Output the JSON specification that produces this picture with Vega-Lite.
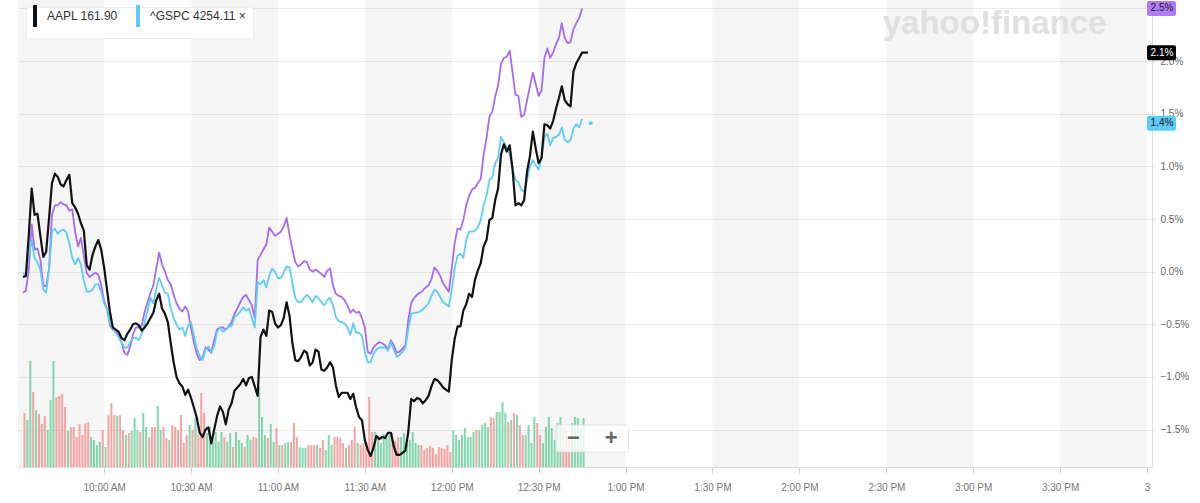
{
"$schema":"https://vega.github.io/schema/vega-lite/v6.json",
"width":1134,"height":467,
"autosize":{"type":"none"},
"padding":{"left":18,"top":0,"right":48,"bottom":36},
"background":"#ffffff",
"config":{"view":{"stroke":null},"font":"Liberation Sans"},
"data":{"format":{"parse":{"t":"date:'%H:%M'"}},"values":[
{"t":"09:32","a":-0.05,"g":-0.01,"n":-0.20,"v":46,"d":"r"},
{"t":"09:33","a":-0.04,"g":-0.03,"n":-0.18,"v":39,"d":"g"},
{"t":"09:34","a":0.35,"g":0.16,"n":0.02,"v":98,"d":"g"},
{"t":"09:35","a":0.79,"g":0.30,"n":0.45,"v":67,"d":"r"},
{"t":"09:36","a":0.54,"g":0.13,"n":0.21,"v":49,"d":"g"},
{"t":"09:37","a":0.55,"g":0.09,"n":0.22,"v":45,"d":"r"},
{"t":"09:38","a":0.34,"g":0.02,"n":0.11,"v":35,"d":"r"},
{"t":"09:39","a":0.14,"g":-0.17,"n":-0.13,"v":43,"d":"r"},
{"t":"09:40","a":0.19,"g":-0.20,"n":-0.14,"v":29,"d":"g"},
{"t":"09:41","a":0.51,"g":0.02,"n":0.03,"v":59,"d":"g"},
{"t":"09:42","a":0.84,"g":0.38,"n":0.54,"v":98,"d":"g"},
{"t":"09:43","a":0.93,"g":0.41,"n":0.63,"v":62,"d":"r"},
{"t":"09:44","a":0.90,"g":0.36,"n":0.63,"v":63,"d":"r"},
{"t":"09:45","a":0.83,"g":0.39,"n":0.66,"v":65,"d":"r"},
{"t":"09:46","a":0.81,"g":0.40,"n":0.64,"v":52,"d":"r"},
{"t":"09:47","a":0.87,"g":0.37,"n":0.63,"v":28,"d":"g"},
{"t":"09:48","a":0.92,"g":0.27,"n":0.58,"v":32,"d":"r"},
{"t":"09:49","a":0.65,"g":0.13,"n":0.59,"v":32,"d":"r"},
{"t":"09:50","a":0.61,"g":0.07,"n":0.38,"v":22,"d":"r"},
{"t":"09:51","a":0.55,"g":0.13,"n":0.24,"v":35,"d":"r"},
{"t":"09:52","a":0.46,"g":0.07,"n":0.32,"v":24,"d":"r"},
{"t":"09:53","a":0.39,"g":-0.08,"n":0.15,"v":36,"d":"r"},
{"t":"09:54","a":0.06,"g":-0.19,"n":-0.01,"v":37,"d":"r"},
{"t":"09:55","a":0.02,"g":-0.19,"n":-0.05,"v":22,"d":"g"},
{"t":"09:56","a":0.16,"g":-0.17,"n":-0.03,"v":19,"d":"g"},
{"t":"09:57","a":0.24,"g":-0.12,"n":-0.01,"v":14,"d":"g"},
{"t":"09:58","a":0.30,"g":-0.12,"n":-0.03,"v":17,"d":"g"},
{"t":"09:59","a":0.21,"g":-0.19,"n":-0.13,"v":29,"d":"r"},
{"t":"10:00","a":0.04,"g":-0.30,"n":-0.28,"v":12,"d":"g"},
{"t":"10:01","a":-0.17,"g":-0.36,"n":-0.35,"v":44,"d":"r"},
{"t":"10:02","a":-0.38,"g":-0.48,"n":-0.51,"v":56,"d":"r"},
{"t":"10:03","a":-0.53,"g":-0.55,"n":-0.55,"v":44,"d":"r"},
{"t":"10:04","a":-0.55,"g":-0.58,"n":-0.56,"v":43,"d":"g"},
{"t":"10:05","a":-0.57,"g":-0.62,"n":-0.61,"v":44,"d":"r"},
{"t":"10:06","a":-0.63,"g":-0.67,"n":-0.67,"v":29,"d":"r"},
{"t":"10:07","a":-0.65,"g":-0.72,"n":-0.77,"v":24,"d":"g"},
{"t":"10:08","a":-0.59,"g":-0.72,"n":-0.79,"v":26,"d":"r"},
{"t":"10:09","a":-0.55,"g":-0.67,"n":-0.71,"v":28,"d":"g"},
{"t":"10:10","a":-0.50,"g":-0.63,"n":-0.59,"v":41,"d":"g"},
{"t":"10:11","a":-0.49,"g":-0.63,"n":-0.53,"v":29,"d":"g"},
{"t":"10:12","a":-0.51,"g":-0.65,"n":-0.53,"v":27,"d":"r"},
{"t":"10:13","a":-0.56,"g":-0.59,"n":-0.51,"v":46,"d":"g"},
{"t":"10:14","a":-0.53,"g":-0.48,"n":-0.38,"v":32,"d":"g"},
{"t":"10:15","a":-0.49,"g":-0.37,"n":-0.29,"v":22,"d":"r"},
{"t":"10:16","a":-0.44,"g":-0.25,"n":-0.20,"v":32,"d":"r"},
{"t":"10:17","a":-0.39,"g":-0.30,"n":-0.13,"v":32,"d":"r"},
{"t":"10:18","a":-0.27,"g":-0.16,"n":0.03,"v":53,"d":"g"},
{"t":"10:19","a":-0.21,"g":-0.06,"n":0.18,"v":29,"d":"g"},
{"t":"10:20","a":-0.35,"g":-0.13,"n":0.07,"v":32,"d":"r"},
{"t":"10:21","a":-0.40,"g":-0.20,"n":0.00,"v":21,"d":"r"},
{"t":"10:22","a":-0.48,"g":-0.21,"n":-0.08,"v":19,"d":"g"},
{"t":"10:23","a":-0.68,"g":-0.35,"n":-0.12,"v":34,"d":"r"},
{"t":"10:24","a":-0.86,"g":-0.44,"n":-0.22,"v":32,"d":"r"},
{"t":"10:25","a":-1.00,"g":-0.50,"n":-0.30,"v":29,"d":"r"},
{"t":"10:26","a":-1.06,"g":-0.55,"n":-0.35,"v":44,"d":"r"},
{"t":"10:27","a":-1.09,"g":-0.53,"n":-0.38,"v":16,"d":"r"},
{"t":"10:28","a":-1.17,"g":-0.61,"n":-0.33,"v":24,"d":"r"},
{"t":"10:29","a":-1.12,"g":-0.51,"n":-0.38,"v":34,"d":"g"},
{"t":"10:30","a":-1.20,"g":-0.48,"n":-0.54,"v":29,"d":"r"},
{"t":"10:31","a":-1.29,"g":-0.61,"n":-0.67,"v":41,"d":"g"},
{"t":"10:32","a":-1.39,"g":-0.73,"n":-0.78,"v":24,"d":"r"},
{"t":"10:33","a":-1.53,"g":-0.80,"n":-0.84,"v":66,"d":"r"},
{"t":"10:34","a":-1.57,"g":-0.84,"n":-0.82,"v":46,"d":"r"},
{"t":"10:35","a":-1.50,"g":-0.74,"n":-0.72,"v":26,"d":"g"},
{"t":"10:36","a":-1.48,"g":-0.71,"n":-0.74,"v":32,"d":"g"},
{"t":"10:37","a":-1.63,"g":-0.76,"n":-0.77,"v":21,"d":"g"},
{"t":"10:38","a":-1.50,"g":-0.71,"n":-0.65,"v":27,"d":"g"},
{"t":"10:39","a":-1.37,"g":-0.57,"n":-0.55,"v":17,"d":"g"},
{"t":"10:40","a":-1.28,"g":-0.53,"n":-0.53,"v":27,"d":"g"},
{"t":"10:41","a":-1.33,"g":-0.57,"n":-0.53,"v":22,"d":"r"},
{"t":"10:42","a":-1.45,"g":-0.55,"n":-0.55,"v":17,"d":"g"},
{"t":"10:43","a":-1.31,"g":-0.52,"n":-0.52,"v":26,"d":"g"},
{"t":"10:44","a":-1.25,"g":-0.52,"n":-0.48,"v":12,"d":"r"},
{"t":"10:45","a":-1.13,"g":-0.43,"n":-0.40,"v":27,"d":"g"},
{"t":"10:46","a":-1.10,"g":-0.41,"n":-0.35,"v":19,"d":"g"},
{"t":"10:47","a":-1.07,"g":-0.38,"n":-0.29,"v":16,"d":"g"},
{"t":"10:48","a":-1.02,"g":-0.34,"n":-0.24,"v":12,"d":"r"},
{"t":"10:49","a":-1.08,"g":-0.37,"n":-0.22,"v":24,"d":"g"},
{"t":"10:50","a":-1.01,"g":-0.35,"n":-0.27,"v":19,"d":"g"},
{"t":"10:51","a":-1.00,"g":-0.44,"n":-0.32,"v":22,"d":"r"},
{"t":"10:52","a":-1.09,"g":-0.53,"n":-0.44,"v":21,"d":"r"},
{"t":"10:53","a":-1.18,"g":-0.10,"n":0.11,"v":72,"d":"g"},
{"t":"10:54","a":-0.62,"g":-0.12,"n":0.16,"v":42,"d":"g"},
{"t":"10:55","a":-0.55,"g":-0.08,"n":0.21,"v":24,"d":"g"},
{"t":"10:56","a":-0.61,"g":-0.15,"n":0.26,"v":21,"d":"r"},
{"t":"10:57","a":-0.37,"g":-0.04,"n":0.42,"v":35,"d":"g"},
{"t":"10:58","a":-0.38,"g":0.03,"n":0.38,"v":17,"d":"g"},
{"t":"10:59","a":-0.49,"g":0.00,"n":0.34,"v":31,"d":"r"},
{"t":"11:00","a":-0.53,"g":-0.06,"n":0.36,"v":14,"d":"g"},
{"t":"11:01","a":-0.51,"g":-0.06,"n":0.38,"v":14,"d":"r"},
{"t":"11:02","a":-0.44,"g":-0.01,"n":0.43,"v":16,"d":"g"},
{"t":"11:03","a":-0.29,"g":0.05,"n":0.51,"v":17,"d":"g"},
{"t":"11:04","a":-0.42,"g":0.04,"n":0.35,"v":17,"d":"r"},
{"t":"11:05","a":-0.68,"g":-0.11,"n":0.21,"v":36,"d":"r"},
{"t":"11:06","a":-0.84,"g":-0.25,"n":0.09,"v":22,"d":"r"},
{"t":"11:07","a":-0.85,"g":-0.29,"n":0.05,"v":12,"d":"g"},
{"t":"11:08","a":-0.81,"g":-0.29,"n":0.07,"v":11,"d":"g"},
{"t":"11:09","a":-0.75,"g":-0.25,"n":0.10,"v":11,"d":"g"},
{"t":"11:10","a":-0.77,"g":-0.22,"n":0.09,"v":14,"d":"r"},
{"t":"11:11","a":-0.89,"g":-0.25,"n":0.02,"v":14,"d":"r"},
{"t":"11:12","a":-0.86,"g":-0.29,"n":0.00,"v":14,"d":"r"},
{"t":"11:13","a":-0.74,"g":-0.23,"n":0.02,"v":14,"d":"g"},
{"t":"11:14","a":-0.76,"g":-0.25,"n":0.00,"v":11,"d":"r"},
{"t":"11:15","a":-0.93,"g":-0.29,"n":-0.02,"v":19,"d":"r"},
{"t":"11:16","a":-0.94,"g":-0.32,"n":-0.05,"v":9,"d":"g"},
{"t":"11:17","a":-0.91,"g":-0.27,"n":0.01,"v":24,"d":"g"},
{"t":"11:18","a":-0.86,"g":-0.25,"n":0.03,"v":14,"d":"g"},
{"t":"11:19","a":-0.91,"g":-0.32,"n":-0.13,"v":22,"d":"r"},
{"t":"11:20","a":-1.08,"g":-0.43,"n":-0.21,"v":22,"d":"r"},
{"t":"11:21","a":-1.19,"g":-0.47,"n":-0.23,"v":21,"d":"r"},
{"t":"11:22","a":-1.15,"g":-0.48,"n":-0.24,"v":16,"d":"r"},
{"t":"11:23","a":-1.15,"g":-0.49,"n":-0.27,"v":11,"d":"g"},
{"t":"11:24","a":-1.15,"g":-0.53,"n":-0.32,"v":14,"d":"r"},
{"t":"11:25","a":-1.21,"g":-0.60,"n":-0.39,"v":19,"d":"r"},
{"t":"11:26","a":-1.16,"g":-0.49,"n":-0.36,"v":32,"d":"r"},
{"t":"11:27","a":-1.29,"g":-0.58,"n":-0.39,"v":16,"d":"g"},
{"t":"11:28","a":-1.38,"g":-0.58,"n":-0.38,"v":14,"d":"r"},
{"t":"11:29","a":-1.41,"g":-0.61,"n":-0.44,"v":16,"d":"r"},
{"t":"11:30","a":-1.60,"g":-0.76,"n":-0.53,"v":17,"d":"r"},
{"t":"11:31","a":-1.69,"g":-0.86,"n":-0.76,"v":62,"d":"r"},
{"t":"11:32","a":-1.75,"g":-0.86,"n":-0.78,"v":27,"d":"r"},
{"t":"11:33","a":-1.67,"g":-0.78,"n":-0.72,"v":27,"d":"g"},
{"t":"11:34","a":-1.56,"g":-0.74,"n":-0.69,"v":20,"d":"g"},
{"t":"11:35","a":-1.59,"g":-0.72,"n":-0.67,"v":16,"d":"g"},
{"t":"11:36","a":-1.57,"g":-0.72,"n":-0.68,"v":25,"d":"g"},
{"t":"11:37","a":-1.58,"g":-0.72,"n":-0.70,"v":21,"d":"g"},
{"t":"11:38","a":-1.53,"g":-0.75,"n":-0.74,"v":24,"d":"g"},
{"t":"11:39","a":-1.53,"g":-0.67,"n":-0.65,"v":26,"d":"r"},
{"t":"11:40","a":-1.66,"g":-0.74,"n":-0.70,"v":18,"d":"r"},
{"t":"11:41","a":-1.74,"g":-0.81,"n":-0.77,"v":22,"d":"r"},
{"t":"11:42","a":-1.74,"g":-0.79,"n":-0.76,"v":22,"d":"g"},
{"t":"11:43","a":-1.72,"g":-0.76,"n":-0.73,"v":26,"d":"g"},
{"t":"11:44","a":-1.70,"g":-0.72,"n":-0.70,"v":15,"d":"g"},
{"t":"11:45","a":-1.52,"g":-0.55,"n":-0.46,"v":19,"d":"g"},
{"t":"11:46","a":-1.21,"g":-0.40,"n":-0.30,"v":27,"d":"g"},
{"t":"11:47","a":-1.23,"g":-0.39,"n":-0.25,"v":16,"d":"g"},
{"t":"11:48","a":-1.20,"g":-0.39,"n":-0.22,"v":14,"d":"g"},
{"t":"11:49","a":-1.21,"g":-0.38,"n":-0.20,"v":14,"d":"r"},
{"t":"11:50","a":-1.25,"g":-0.36,"n":-0.18,"v":9,"d":"r"},
{"t":"11:51","a":-1.22,"g":-0.33,"n":-0.15,"v":11,"d":"r"},
{"t":"11:52","a":-1.18,"g":-0.30,"n":-0.13,"v":13,"d":"r"},
{"t":"11:53","a":-1.09,"g":-0.23,"n":-0.07,"v":11,"d":"r"},
{"t":"11:54","a":-1.02,"g":-0.17,"n":0.04,"v":5,"d":"r"},
{"t":"11:55","a":-1.03,"g":-0.19,"n":0.01,"v":12,"d":"r"},
{"t":"11:56","a":-1.06,"g":-0.24,"n":-0.04,"v":11,"d":"r"},
{"t":"11:57","a":-1.10,"g":-0.29,"n":-0.11,"v":10,"d":"r"},
{"t":"11:58","a":-1.12,"g":-0.31,"n":-0.15,"v":14,"d":"r"},
{"t":"11:59","a":-1.14,"g":-0.33,"n":-0.19,"v":7,"d":"r"},
{"t":"12:00","a":-0.84,"g":-0.17,"n":0.03,"v":29,"d":"g"},
{"t":"12:01","a":-0.64,"g":0.03,"n":0.27,"v":24,"d":"g"},
{"t":"12:02","a":-0.52,"g":0.15,"n":0.41,"v":19,"d":"g"},
{"t":"12:03","a":-0.52,"g":0.17,"n":0.40,"v":24,"d":"g"},
{"t":"12:04","a":-0.37,"g":0.13,"n":0.49,"v":31,"d":"g"},
{"t":"12:05","a":-0.31,"g":0.30,"n":0.63,"v":22,"d":"g"},
{"t":"12:06","a":-0.21,"g":0.38,"n":0.72,"v":22,"d":"g"},
{"t":"12:07","a":-0.24,"g":0.38,"n":0.78,"v":27,"d":"g"},
{"t":"12:08","a":-0.08,"g":0.39,"n":0.80,"v":29,"d":"r"},
{"t":"12:09","a":0.01,"g":0.42,"n":0.84,"v":29,"d":"g"},
{"t":"12:10","a":0.08,"g":0.49,"n":0.88,"v":34,"d":"g"},
{"t":"12:11","a":0.24,"g":0.63,"n":1.11,"v":36,"d":"g"},
{"t":"12:12","a":0.30,"g":0.72,"n":1.27,"v":32,"d":"g"},
{"t":"12:13","a":0.49,"g":0.87,"n":1.47,"v":42,"d":"r"},
{"t":"12:14","a":0.51,"g":0.90,"n":1.52,"v":41,"d":"r"},
{"t":"12:15","a":0.68,"g":1.03,"n":1.66,"v":47,"d":"g"},
{"t":"12:16","a":0.79,"g":1.08,"n":1.77,"v":47,"d":"g"},
{"t":"12:17","a":1.11,"g":1.28,"n":1.97,"v":57,"d":"g"},
{"t":"12:18","a":1.21,"g":1.23,"n":2.03,"v":46,"d":"g"},
{"t":"12:19","a":1.14,"g":1.17,"n":2.04,"v":37,"d":"r"},
{"t":"12:20","a":1.20,"g":1.12,"n":2.10,"v":39,"d":"g"},
{"t":"12:21","a":0.97,"g":0.98,"n":1.89,"v":46,"d":"r"},
{"t":"12:22","a":0.63,"g":0.87,"n":1.68,"v":44,"d":"g"},
{"t":"12:23","a":0.65,"g":0.85,"n":1.67,"v":34,"d":"r"},
{"t":"12:24","a":0.63,"g":0.78,"n":1.47,"v":24,"d":"r"},
{"t":"12:25","a":0.68,"g":0.76,"n":1.49,"v":24,"d":"g"},
{"t":"12:26","a":0.95,"g":0.87,"n":1.63,"v":34,"d":"g"},
{"t":"12:27","a":1.10,"g":1.00,"n":1.76,"v":16,"d":"g"},
{"t":"12:28","a":1.33,"g":1.06,"n":1.89,"v":42,"d":"g"},
{"t":"12:29","a":1.17,"g":1.01,"n":1.78,"v":36,"d":"r"},
{"t":"12:30","a":1.03,"g":0.97,"n":1.67,"v":24,"d":"r"},
{"t":"12:31","a":1.08,"g":1.08,"n":1.72,"v":16,"d":"g"},
{"t":"12:32","a":1.40,"g":1.28,"n":2.03,"v":32,"d":"g"},
{"t":"12:33","a":1.39,"g":1.31,"n":2.12,"v":42,"d":"g"},
{"t":"12:34","a":1.36,"g":1.20,"n":2.03,"v":31,"d":"g"},
{"t":"12:35","a":1.43,"g":1.27,"n":2.08,"v":19,"d":"g"},
{"t":"12:36","a":1.55,"g":1.28,"n":2.16,"v":36,"d":"g"},
{"t":"12:37","a":1.65,"g":1.30,"n":2.22,"v":42,"d":"g"},
{"t":"12:38","a":1.76,"g":1.37,"n":2.36,"v":32,"d":"r"},
{"t":"12:39","a":1.63,"g":1.25,"n":2.22,"v":29,"d":"r"},
{"t":"12:40","a":1.59,"g":1.23,"n":2.17,"v":19,"d":"r"},
{"t":"12:41","a":1.57,"g":1.25,"n":2.18,"v":36,"d":"g"},
{"t":"12:42","a":1.90,"g":1.36,"n":2.30,"v":42,"d":"g"},
{"t":"12:43","a":1.98,"g":1.40,"n":2.36,"v":41,"d":"g"},
{"t":"12:44","a":2.03,"g":1.37,"n":2.41,"v":30,"d":"g"},
{"t":"12:45","a":2.08,"g":1.45,"n":2.50,"v":41,"d":"g"},
{"t":"12:46","a":2.08,"g":null,"n":null,"v":null,"d":"g"},
{"t":"12:47","a":2.08,"g":null,"n":null,"v":null,"d":"g"}
]},
"resolve":{"scale":{"y":"independent"}},
"layer":[
{"data":{"values":[{"s":"09:30","e":"10:00"},{"s":"10:30","e":"11:00"},{"s":"11:30","e":"12:00"},{"s":"12:30","e":"13:00"},{"s":"13:30","e":"14:00"},{"s":"14:30","e":"15:00"},{"s":"15:30","e":"16:00"}],"format":{"parse":{"s":"date:'%H:%M'","e":"date:'%H:%M'"}}},
 "mark":{"type":"rect","color":"#000000","opacity":0.04,"clip":true},
 "encoding":{
  "x":{"field":"s","type":"temporal",
   "scale":{"nice":false,"domain":[{"year":1900,"month":1,"date":1,"hours":9,"minutes":32},{"year":1900,"month":1,"date":1,"hours":16,"minutes":0}]},
   "axis":{"title":null,"grid":false,"labelOverlap":false,"labelFlush":false,
    "values":[{"year":1900,"month":1,"date":1,"hours":10,"minutes":0},{"year":1900,"month":1,"date":1,"hours":10,"minutes":30},{"year":1900,"month":1,"date":1,"hours":11,"minutes":0},{"year":1900,"month":1,"date":1,"hours":11,"minutes":30},{"year":1900,"month":1,"date":1,"hours":12,"minutes":0},{"year":1900,"month":1,"date":1,"hours":12,"minutes":30},{"year":1900,"month":1,"date":1,"hours":13,"minutes":0},{"year":1900,"month":1,"date":1,"hours":13,"minutes":30},{"year":1900,"month":1,"date":1,"hours":14,"minutes":0},{"year":1900,"month":1,"date":1,"hours":14,"minutes":30},{"year":1900,"month":1,"date":1,"hours":15,"minutes":0},{"year":1900,"month":1,"date":1,"hours":15,"minutes":30},{"year":1900,"month":1,"date":1,"hours":16,"minutes":0}],
    "labelExpr":"hours(datum.value) == 16 ? '3' : timeFormat(datum.value, '%-I:%M %p')",
    "domainColor":"#dcdcdc","tickColor":"#d0d0d0","tickSize":6,"labelColor":"#777777","labelFontSize":10,"labelPadding":9,"labelFont":"Liberation Sans"}},
  "x2":{"field":"e"}}},
{"mark":{"type":"bar","size":2,"xOffset":1.5,"opacity":0.9},
 "encoding":{
  "x":{"field":"t","type":"temporal"},
  "y":{"field":"v","type":"quantitative","scale":{"domain":[-8,459],"zero":false,"nice":false},"axis":null},
  "y2":{"datum":-8},
  "color":{"condition":{"test":"datum.d === 'g'","value":"#74d3a3"},"value":"#f89898"}}},
{"layer":[
 {"mark":{"type":"line","strokeWidth":1.8,"strokeJoin":"round"},
  "encoding":{
   "x":{"field":"t","type":"temporal"},
   "y":{"field":"n","type":"quantitative","scale":{"domain":[-1.855,2.58],"zero":false,"nice":false},
    "axis":{"orient":"right","title":null,"values":[-1.5,-1,-0.5,0,0.5,1,1.5,2,2.5],"labelExpr":"datum.value > 2.4 ? '' : format(datum.value, '.1f') + '%'","grid":true,"gridColor":"#ebebeb","domain":true,"domainColor":"#dcdcdc","ticks":true,"tickSize":3,"tickColor":"#dcdcdc","labelColor":"#666666","labelFontSize":10,"labelPadding":5,"labelFont":"Liberation Sans"}},
   "color":{"datum":"^IXIC","type":"nominal",
    "scale":{"domain":["AAPL","^GSPC","^IXIC"],"range":["#111111","#5dcdf7","#a66af5"]},
    "legend":{"values":["AAPL","^GSPC"],"orient":"none","legendX":8,"legendY":7,"direction":"horizontal","title":null,"symbolType":"M0,-4.4L0,4.4","symbolSize":25,"symbolStrokeWidth":4,"labelExpr":"datum.label == 'AAPL' ? 'AAPL 161.90' : '^GSPC 4254.11  ×'","labelFontSize":12,"labelColor":"#333333","labelFont":"Liberation Sans","labelOffset":6,"columnPadding":12,"padding":3,"fillColor":"#ffffff","strokeColor":"#eeeeee","cornerRadius":2}}}},
 {"mark":{"type":"line","strokeWidth":1.8,"strokeJoin":"round"},
  "encoding":{
   "x":{"field":"t","type":"temporal"},
   "y":{"field":"g","type":"quantitative"},
   "color":{"datum":"^GSPC","type":"nominal",
    "legend":{"values":["AAPL","^GSPC"],"orient":"none","legendX":8,"legendY":7,"direction":"horizontal","title":null,"symbolType":"M0,-4.4L0,4.4","symbolSize":25,"symbolStrokeWidth":4,"labelExpr":"datum.label == 'AAPL' ? 'AAPL 161.90' : '^GSPC 4254.11  ×'","labelFontSize":12,"labelColor":"#333333","labelFont":"Liberation Sans","labelOffset":6,"columnPadding":12,"padding":3,"fillColor":"#ffffff","strokeColor":"#eeeeee","cornerRadius":2}}}},
 {"mark":{"type":"line","strokeWidth":2.2,"strokeJoin":"round"},
  "encoding":{
   "x":{"field":"t","type":"temporal"},
   "y":{"field":"a","type":"quantitative"},
   "color":{"datum":"AAPL","type":"nominal",
    "legend":{"values":["AAPL","^GSPC"],"orient":"none","legendX":8,"legendY":7,"direction":"horizontal","title":null,"symbolType":"M0,-4.4L0,4.4","symbolSize":25,"symbolStrokeWidth":4,"labelExpr":"datum.label == 'AAPL' ? 'AAPL 161.90' : '^GSPC 4254.11  ×'","labelFontSize":12,"labelColor":"#333333","labelFont":"Liberation Sans","labelOffset":6,"columnPadding":12,"padding":3,"fillColor":"#ffffff","strokeColor":"#eeeeee","cornerRadius":2}}}},
 {"data":{"values":[{"t":"12:48","g":1.41}],"format":{"parse":{"t":"date:'%H:%M'"}}},
  "mark":{"type":"point","filled":true,"size":14,"opacity":1,"color":"#5dcdf7"},
  "encoding":{
   "x":{"field":"t","type":"temporal"},
   "y":{"field":"g","type":"quantitative"}}},
 {"data":{"values":[{"t1":"12:36","t2":"13:01"}],"format":{"parse":{"t1":"date:'%H:%M'","t2":"date:'%H:%M'"}}},
  "mark":{"type":"rect","color":"#ffffff","opacity":0.8,"stroke":"#e2e2e2","strokeWidth":1,"cornerRadius":2},
  "encoding":{
   "x":{"field":"t1","type":"temporal"},
   "x2":{"field":"t2"},
   "y":{"datum":-1.456,"type":"quantitative"},
   "y2":{"datum":-1.712}}},
 {"data":{"values":[{"b":"−","t":"12:42"},{"b":"+","t":"12:55"}],"format":{"parse":{"t":"date:'%H:%M'"}}},
  "mark":{"type":"text","fontSize":22,"fontWeight":"bold","color":"#666666","align":"center","baseline":"middle"},
  "encoding":{
   "x":{"field":"t","type":"temporal"},
   "y":{"datum":-1.58,"type":"quantitative"},
   "text":{"field":"b"}}},
 {"data":{"values":[{"w":"yahoo!finance","t":"15:46"}],"format":{"parse":{"t":"date:'%H:%M'"}}},
  "mark":{"type":"text","align":"right","baseline":"middle","fontSize":33,"fontWeight":"bold","color":"#e0e0e0","font":"Liberation Sans"},
  "encoding":{
   "x":{"field":"t","type":"temporal"},
   "y":{"datum":2.35,"type":"quantitative"},
   "text":{"field":"w"}}},
 {"data":{"values":[{"s":"^IXIC","v":2.5,"l":"2.5%"},{"s":"AAPL","v":2.08,"l":"2.1%"},{"s":"^GSPC","v":1.41,"l":"1.4%"}]},
  "mark":{"type":"rect","x2Offset":29,"yOffset":-7.5,"y2Offset":7.5,"cornerRadius":2},
  "encoding":{
   "x":{"datum":{"year":1900,"month":1,"date":1,"hours":16,"minutes":0},"type":"temporal"},
   "x2":{"datum":{"year":1900,"month":1,"date":1,"hours":16,"minutes":0}},
   "y":{"field":"v","type":"quantitative"},
   "y2":{"field":"v"},
   "color":{"condition":[{"test":"datum.s === 'AAPL'","value":"#000000"},{"test":"datum.s === '^GSPC'","value":"#5dcdf7"}],"value":"#b07cf5"}}},
 {"data":{"values":[{"s":"^IXIC","v":2.5,"l":"2.5%"},{"s":"AAPL","v":2.08,"l":"2.1%"},{"s":"^GSPC","v":1.41,"l":"1.4%"}]},
  "mark":{"type":"text","dx":15,"align":"center","baseline":"middle","fontSize":10,"font":"Liberation Sans"},
  "encoding":{
   "x":{"datum":{"year":1900,"month":1,"date":1,"hours":16,"minutes":0},"type":"temporal"},
   "y":{"field":"v","type":"quantitative"},
   "text":{"field":"l"},
   "color":{"condition":{"test":"datum.s === 'AAPL'","value":"#ffffff"},"value":"#1a1a1a"}}}
]}
]
}
